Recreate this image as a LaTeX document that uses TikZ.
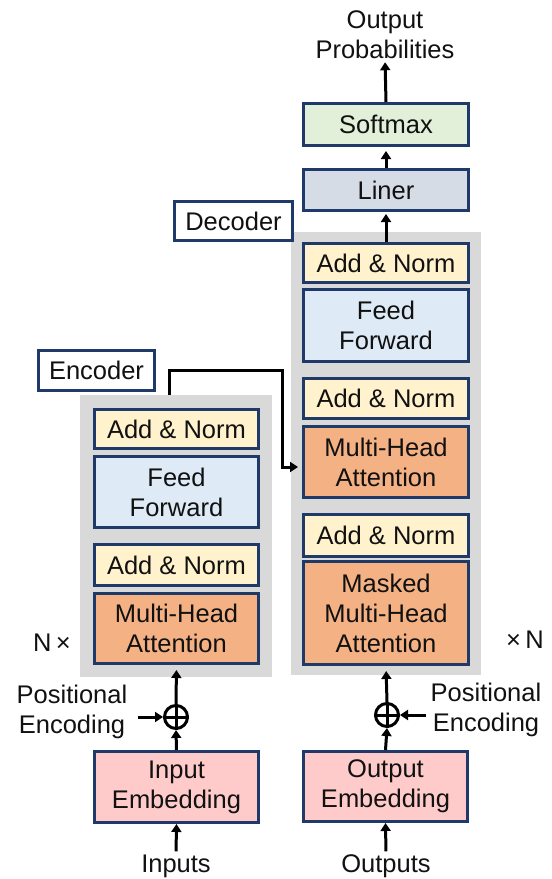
\documentclass[tikz,border=0pt]{standalone}
\usepackage{fontspec}
\setmainfont{Liberation Sans}
\usetikzlibrary{arrows.meta}

\definecolor{navy}{HTML}{1F3A68}
\definecolor{addnorm}{HTML}{FFF2CC}
\definecolor{ffwd}{HTML}{DEEBF7}
\definecolor{attn}{HTML}{F4B183}
\definecolor{embed}{HTML}{FFCACA}
\definecolor{liner}{HTML}{D6DCE5}
\definecolor{softm}{HTML}{E2F0D9}
\definecolor{stackbg}{HTML}{D9D9D9}
\definecolor{ink}{HTML}{111111}

\begin{document}
\begin{tikzpicture}[x=1pt,y=-1pt,
  every node/.style={font=\fontsize{25.5}{30}\selectfont, text=ink, inner sep=0pt, align=center},
  block/.style={draw=navy, line width=3pt, minimum width=#1},
  block/.default=164pt,
  stack/.style={fill=stackbg, draw=none},
  tag/.style={draw=navy, line width=2.8pt, fill=white},
  arr/.style={draw=black, line width=3pt, -{Triangle[length=8pt,width=10pt]}},
  sum/.style={circle, draw=black, line width=3pt, minimum size=23pt},
]
\useasboundingbox (0,0) rectangle (552,879);

% grey stacks behind the repeated layers
\node[stack, minimum width=192pt, minimum height=282pt] (encbg) at (176,536) {};
\node[stack, minimum width=190pt, minimum height=443pt] (decbg) at (386,453.5) {};

% encoder layer
\node[block, fill=addnorm, minimum height=39pt] (eAN2) at (176.5,429) {Add \& Norm};
\node[block, fill=ffwd,    minimum height=71pt] (eFF)  at (176.5,492) {Feed\\Forward};
\node[block, fill=addnorm, minimum height=41pt] (eAN1) at (176.5,565) {Add \& Norm};
\node[block, fill=attn,    minimum height=70pt] (eMHA) at (176.5,628.5) {Multi-Head\\Attention};

% decoder layer
\node[block=165pt, fill=addnorm, minimum height=39pt]  (dAN3)  at (386,263) {Add \& Norm};
\node[block=165pt, fill=ffwd,    minimum height=72pt]  (dFF)   at (386,325.5) {Feed\\Forward};
\node[block=165pt, fill=addnorm, minimum height=40pt]  (dAN2)  at (386,398.5) {Add \& Norm};
\node[block=165pt, fill=attn,    minimum height=71pt]  (dMHA)  at (386,462) {Multi-Head\\Attention};
\node[block=165pt, fill=addnorm, minimum height=42pt]  (dAN1)  at (386,535.5) {Add \& Norm};
\node[block=165pt, fill=attn,    minimum height=103pt] (dMMHA) at (386,613) {Masked\\Multi-Head\\Attention};

% output head
\node[block=165pt, fill=liner, minimum height=41pt] (lin)  at (386,190) {Liner};
\node[block=165pt, fill=softm, minimum height=42pt] (soft) at (386,124.5) {Softmax};
\node (prob) at (385,35) {Output\\Probabilities};

% section tags
\node[tag, minimum width=116pt, minimum height=40pt] (enctag) at (96.5,370.5) {Encoder};
\node[tag, minimum width=118pt, minimum height=39pt] (dectag) at (233.5,221) {Decoder};

% repetition marks
\node (nl) at (52,643) {N\,×};
\node (nr) at (525,640) {×\,N};

% embeddings and inputs
\node[block, fill=embed, minimum height=71pt] (inemb)  at (176.5,787) {Input\\Embedding};
\node[block, fill=embed, minimum height=70pt] (outemb) at (385.5,786.5) {Output\\Embedding};
\node (inputs)  at (176,866) {Inputs};
\node (outputs) at (386,866) {Outputs};

% positional encodings
\node[sum] (sumE) at (176,717) {};
\node[sum] (sumD) at (387,715) {};
\draw[line width=3pt] (sumE.north) -- (sumE.south) (sumE.west) -- (sumE.east);
\draw[line width=3pt] (sumD.north) -- (sumD.south) (sumD.west) -- (sumD.east);
\node (peL) at (72,712) {Positional\\Encoding};
\node (peR) at (486,710) {Positional\\Encoding};
\coordinate (peLa) at (138,717);
\coordinate (peRa) at (426,715);

% data flow
\draw[arr, shorten <=3pt] (inputs.north) -- (inemb.south);
\draw[arr, shorten <=3pt] (outputs.north) -- (outemb.south);
\draw[arr] (inemb.north) -- (sumE.south);
\draw[arr] (outemb.north) -- (sumD.south);
\draw[arr] (peLa) -- (sumE.west);
\draw[arr] (peRa) -- (sumD.east);
\draw[arr, shorten >=5pt] (sumE.north) -- (eMHA.south);
\draw[arr, shorten >=5pt] (sumD.north) -- (dMMHA.south);
\draw[arr, shorten >=2pt] (dAN3.north) -- (lin.south);
\draw[arr, shorten >=4pt] (lin.north) -- (soft.south);
\draw[arr, shorten >=3pt] (soft.north) -- (prob.south);

% encoder output into the decoder's cross attention
\coordinate (bend) at (282,370);
\draw[arr, shorten >=4pt] ([xshift=-7pt]encbg.north) |- (bend) |- ([yshift=-5pt]dMHA.west);
\end{tikzpicture}
\end{document}
